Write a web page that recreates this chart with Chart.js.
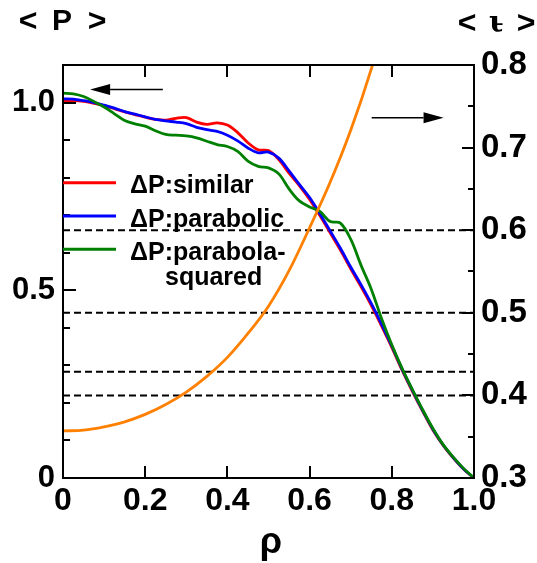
<!DOCTYPE html>
<html lang="en">
<head>
<meta charset="UTF-8">
<title>Pressure and rotational transform profiles</title>
<script src="https://cdn.jsdelivr.net/npm/chart.js@4.4.0/dist/chart.umd.min.js"></script>
<style>
  html, body { margin: 0; padding: 0; background: #fff; }
</style>
</head>
<body>
<canvas id="profiles" width="537" height="563"></canvas>
<script>
// normalized minor radius
const rho = [0, 0.025, 0.05, 0.075, 0.1, 0.125, 0.15, 0.175, 0.2, 0.225,
             0.25, 0.275, 0.3, 0.325, 0.35, 0.375, 0.4, 0.425, 0.45, 0.475,
             0.5, 0.525, 0.55, 0.575, 0.6, 0.625, 0.65, 0.675, 0.7, 0.725,
             0.75, 0.775, 0.8, 0.825, 0.85, 0.875, 0.9, 0.925, 0.95, 0.975, 1.0];

// <P> for the three pressure-increment models (left axis)
const pSimilar = [1.005, 1.005, 1.003, 0.998, 0.992, 0.984, 0.975, 0.968, 0.961, 0.955,
                  0.953, 0.958, 0.960, 0.948, 0.942, 0.946, 0.940, 0.920, 0.893, 0.874,
                  0.872, 0.848, 0.812, 0.779, 0.742, 0.699, 0.653, 0.607, 0.557, 0.510,
                  0.460, 0.405, 0.348, 0.287, 0.231, 0.178, 0.128, 0.087, 0.053, 0.023, 0.0];
const pParabolic = [1.010, 1.009, 1.005, 1.000, 0.993, 0.985, 0.976, 0.969, 0.962, 0.955,
                    0.951, 0.948, 0.944, 0.934, 0.928, 0.923, 0.913, 0.898, 0.879, 0.866,
                    0.868, 0.852, 0.818, 0.782, 0.747, 0.704, 0.658, 0.612, 0.562, 0.515,
                    0.465, 0.410, 0.352, 0.290, 0.234, 0.180, 0.130, 0.088, 0.054, 0.024, 0.0];
const pParabolaSquared = [1.025, 1.023, 1.016, 1.003, 0.988, 0.970, 0.952, 0.943, 0.937, 0.925,
                          0.915, 0.913, 0.911, 0.906, 0.897, 0.888, 0.883, 0.870, 0.844, 0.830,
                          0.826, 0.810, 0.770, 0.738, 0.722, 0.710, 0.683, 0.679, 0.636, 0.567,
                          0.503, 0.425, 0.355, 0.292, 0.236, 0.182, 0.132, 0.089, 0.055, 0.025, 0.0];

// <iota> rotational transform (right axis)
const iotaRho = [0, 0.05, 0.1, 0.15, 0.2, 0.25, 0.3, 0.35, 0.4, 0.45, 0.5, 0.55, 0.6, 0.65, 0.7, 0.75, 0.8];
const iotaValues = [0.357, 0.358, 0.362, 0.368, 0.377, 0.389, 0.404, 0.423, 0.446, 0.475,
                    0.508, 0.551, 0.603, 0.658, 0.721, 0.795, 0.883];

// rational surfaces (dashed)
const rationalIota = [0.6, 0.5, 0.4286, 0.4];

const legendLabels = ['\u0394P:similar', '\u0394P:parabolic', '\u0394P:parabola-'];
const legendExtra = 'squared';

const FONT = '"Liberation Sans", Arial, sans-serif';

function pts(xs, ys) {
  return xs.map((x, i) => ({ x: x, y: ys[i] }));
}

const curve = (label, xs, ys, color, axis) => ({
  label: label,
  data: pts(xs, ys),
  borderColor: color,
  borderWidth: 2.8,
  pointRadius: 0,
  tension: 0.35,
  yAxisID: axis
});

const datasets = [
  curve('<iota>', iotaRho, iotaValues, '#ff8000', 'y2'),
  curve(legendLabels[2], rho, pParabolaSquared, '#008000', 'y'),
  curve(legendLabels[1], rho, pParabolic, '#0000ff', 'y'),
  curve(legendLabels[0], rho, pSimilar, '#ff0000', 'y')
];
rationalIota.forEach(v => {
  datasets.push({
    label: 'iota=' + v,
    data: [{ x: 0, y: v }, { x: 1, y: v }],
    borderColor: '#000',
    borderWidth: 2,
    borderDash: [7, 4],
    pointRadius: 0,
    yAxisID: 'y2'
  });
});

function arrow(ctx, x0, y0, x1, y1) {
  const dir = Math.sign(x1 - x0);
  const headLen = 20, half = 5.5;
  ctx.beginPath();
  ctx.moveTo(x0, y0);
  ctx.lineTo(x1 - dir * headLen, y1);
  ctx.stroke();
  ctx.beginPath();
  ctx.moveTo(x1, y1);
  ctx.lineTo(x1 - dir * headLen, y1 - half);
  ctx.lineTo(x1 - dir * headLen, y1 + half);
  ctx.closePath();
  ctx.fill();
}

// frame, inward ticks, arrows, legend and titles
const decorations = {
  id: 'decorations',
  afterDraw(chart) {
    const { ctx, chartArea: a, scales } = chart;
    const x = scales.x, yL = scales.y, yR = scales.y2;
    ctx.save();
    ctx.strokeStyle = '#000';
    ctx.fillStyle = '#000';
    ctx.lineWidth = 2;
    ctx.strokeRect(a.left, a.top, a.right - a.left, a.bottom - a.top);

    ctx.beginPath();
    x.ticks.forEach(t => {
      if (t.value <= 0 || t.value >= 1) return;
      const px = Math.round(x.getPixelForValue(t.value));
      ctx.moveTo(px, a.bottom); ctx.lineTo(px, a.bottom - 12);
      ctx.moveTo(px, a.top); ctx.lineTo(px, a.top + 12);
    });
    yL.ticks.forEach(t => {
      if (t.value <= 0 || t.value >= yL.max) return;
      const py = Math.round(yL.getPixelForValue(t.value));
      ctx.moveTo(a.left, py); ctx.lineTo(a.left + (t.label ? 13 : 7), py);
    });
    yR.ticks.forEach(t => {
      if (t.value <= yR.min || t.value >= yR.max) return;
      const py = Math.round(yR.getPixelForValue(t.value));
      ctx.moveTo(a.right, py); ctx.lineTo(a.right - (t.label ? 12 : 6), py);
    });
    ctx.stroke();

    // arrows pointing to the axis each curve belongs to
    ctx.lineWidth = 1.5;
    arrow(ctx, x.getPixelForValue(0.243), yL.getPixelForValue(1.035),
               x.getPixelForValue(0.066), yL.getPixelForValue(1.035));
    arrow(ctx, x.getPixelForValue(0.751), yR.getPixelForValue(0.736),
               x.getPixelForValue(0.926), yR.getPixelForValue(0.736));

    // legend
    const colors = ['#ff0000', '#0000ff', '#008000'];
    const rows = [182.7, 216, 249.3];
    ctx.lineWidth = 3;
    ctx.font = 'bold 25px ' + FONT;
    ctx.textAlign = 'left';
    ctx.textBaseline = 'alphabetic';
    legendLabels.forEach((lab, i) => {
      ctx.strokeStyle = colors[i];
      ctx.beginPath();
      ctx.moveTo(a.left, rows[i]);
      ctx.lineTo(a.left + 53, rows[i]);
      ctx.stroke();
      ctx.fillText(lab, 130, rows[i] + 10.5);
    });
    ctx.fillText(legendExtra, 165, 285);

    // axis titles
    ctx.font = 'bold 32px ' + FONT;
    ctx.textAlign = 'center';
    ctx.textBaseline = 'middle';
    ctx.fillText('<', 28, 22);
    ctx.fillText('>', 97, 22);
    ctx.fillText('<', 467, 24);
    ctx.fillText('>', 526, 24);
    ctx.font = 'bold 30px ' + FONT;
    ctx.fillText('P', 62, 22);
    ctx.font = 'bold 30px "DejaVu Serif", serif';
    ctx.fillText('\u03B9\u0335', 496, 24);
    ctx.font = 'bold 36px ' + FONT;
    ctx.textBaseline = 'alphabetic';
    ctx.fillText('\u03C1', 271, 553);
    ctx.restore();
  }
};

const tickFont = size => ({ family: FONT, size: size, weight: 'bold' });

new Chart(document.getElementById('profiles'), {
  type: 'line',
  data: { datasets: datasets },
  options: {
    responsive: false,
    animation: false,
    layout: { padding: { top: 65, left: 0, right: 0, bottom: 0 } },
    plugins: { legend: { display: false }, tooltip: { enabled: false } },
    scales: {
      x: {
        type: 'linear', min: 0, max: 1,
        grid: { display: false, drawTicks: false },
        border: { display: false },
        ticks: {
          stepSize: 0.2, autoSkip: false, maxRotation: 0, padding: 4,
          color: '#000', font: tickFont(32),
          callback: v => (v === 0 ? '0' : v.toFixed(1))
        },
        afterFit: s => { s.height = 85; }
      },
      y: {
        position: 'left', min: 0, max: 1.1,
        grid: { display: false, drawTicks: false },
        border: { display: false },
        ticks: {
          stepSize: 0.1, autoSkip: false, padding: 8,
          color: '#000', font: tickFont(31),
          callback: v => {
            if (Math.abs(v) < 1e-6) return '0';
            if (Math.abs(v - 0.5) < 1e-6) return '0.5';
            if (Math.abs(v - 1) < 1e-6) return '1.0';
            return '';
          }
        },
        afterFit: s => { s.width = 63; }
      },
      y2: {
        position: 'right', min: 0.3, max: 0.8,
        grid: { display: false, drawTicks: false },
        border: { display: false },
        ticks: {
          stepSize: 0.05, autoSkip: false, padding: 7,
          color: '#000', font: tickFont(33),
          callback: v => (Math.abs(v * 10 - Math.round(v * 10)) < 1e-6 ? v.toFixed(1) : '')
        },
        afterFit: s => { s.width = 63; }
      }
    }
  },
  plugins: [decorations]
});
</script>
</body>
</html>
